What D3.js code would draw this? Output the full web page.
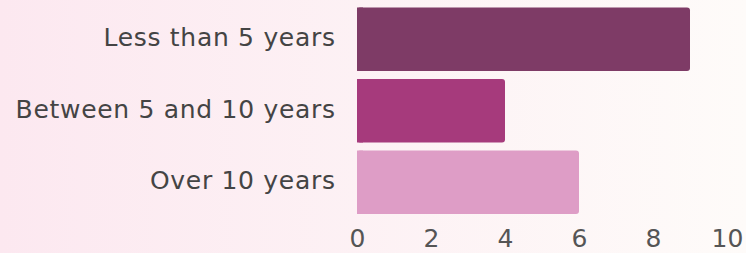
<!DOCTYPE html>
<html>
<head>
<meta charset="utf-8">
<script src="https://cdn.jsdelivr.net/npm/d3@7"></script>
<style>
  html, body { margin: 0; padding: 0; }
  body { width: 746px; height: 253px; overflow: hidden; }
</style>
</head>
<body>
<div id="chart-area"></div>
<script>
// data
var categories = ["Less than 5 years", "Between 5 and 10 years", "Over 10 years"];
var values = [9, 4, 6];
var barColors = ["#7e3b66", "#a63a7c", "#de9dc6"];
var tickValues = [0, 2, 4, 6, 8, 10];

var W = 746, H = 253;

var svg = d3.select("#chart-area")
	.append("svg")
		.attr("width", W)
		.attr("height", H);

// background gradient
var defs = svg.append("defs");
var grad = defs.append("linearGradient")
	.attr("id", "bg")
	.attr("x1", "0%").attr("y1", "0%")
	.attr("x2", "100%").attr("y2", "0%");
grad.append("stop").attr("offset", "0%").attr("stop-color", "#fce8f0");
grad.append("stop").attr("offset", "100%").attr("stop-color", "#fefbf9");

svg.append("rect")
	.attr("width", W)
	.attr("height", H)
	.attr("fill", "url(#bg)");

//scales
var x = d3.scaleLinear()
	.domain([0, 10])
	.range([357, 727]);

var y = d3.scaleBand()
	.domain(categories)
	.range([7.5, 214])
	.paddingInner(0.113)
	.paddingOuter(0);

// bars
svg.selectAll("rect.bar")
	.data(values)
	.enter()
	.append("rect")
		.attr("class", "bar")
		.attr("x", x(0))
		.attr("y", function(d, i){ return y(categories[i]); })
		.attr("width", function(d){ return x(d) - x(0); })
		.attr("height", y.bandwidth())
		.attr("rx", 3)
		.attr("fill", function(d, i){ return barColors[i]; });

// cover rounded corners on the left side
svg.selectAll("rect.barleft")
	.data(values)
	.enter()
	.append("rect")
		.attr("x", x(0))
		.attr("y", function(d, i){ return y(categories[i]); })
		.attr("width", 6)
		.attr("height", y.bandwidth())
		.attr("fill", function(d, i){ return barColors[i]; });

// category labels
svg.selectAll("text.cat")
	.data(categories)
	.enter()
	.append("text")
		.attr("class", "cat")
		.attr("x", 335.7)
		.attr("y", function(d){ return y(d) + y.bandwidth()/2 + 7; })
		.attr("text-anchor", "end")
		.attr("font-family", "DejaVu Sans, sans-serif")
		.attr("font-size", "25px")
		.attr("letter-spacing", "0.7px")
		.attr("fill", "#444")
		.text(function(d){ return d; });

// x axis
var xAxisCall = d3.axisBottom(x)
	.tickValues(tickValues)
	.tickSize(0)
	.tickPadding(0)
	.tickFormat(function(d){ return +d; });

var xAxis = svg.append("g")
	.attr("class", "x axis")
	.attr("transform", "translate(0, 247)")
	.call(xAxisCall);

xAxis.select(".domain").remove();
xAxis.selectAll("text")
	.attr("dy", 0)
	.attr("y", 0)
	.attr("font-family", "DejaVu Sans, sans-serif")
	.attr("font-size", "25px")
	.attr("fill", "#555");
</script>
</body>
</html>
